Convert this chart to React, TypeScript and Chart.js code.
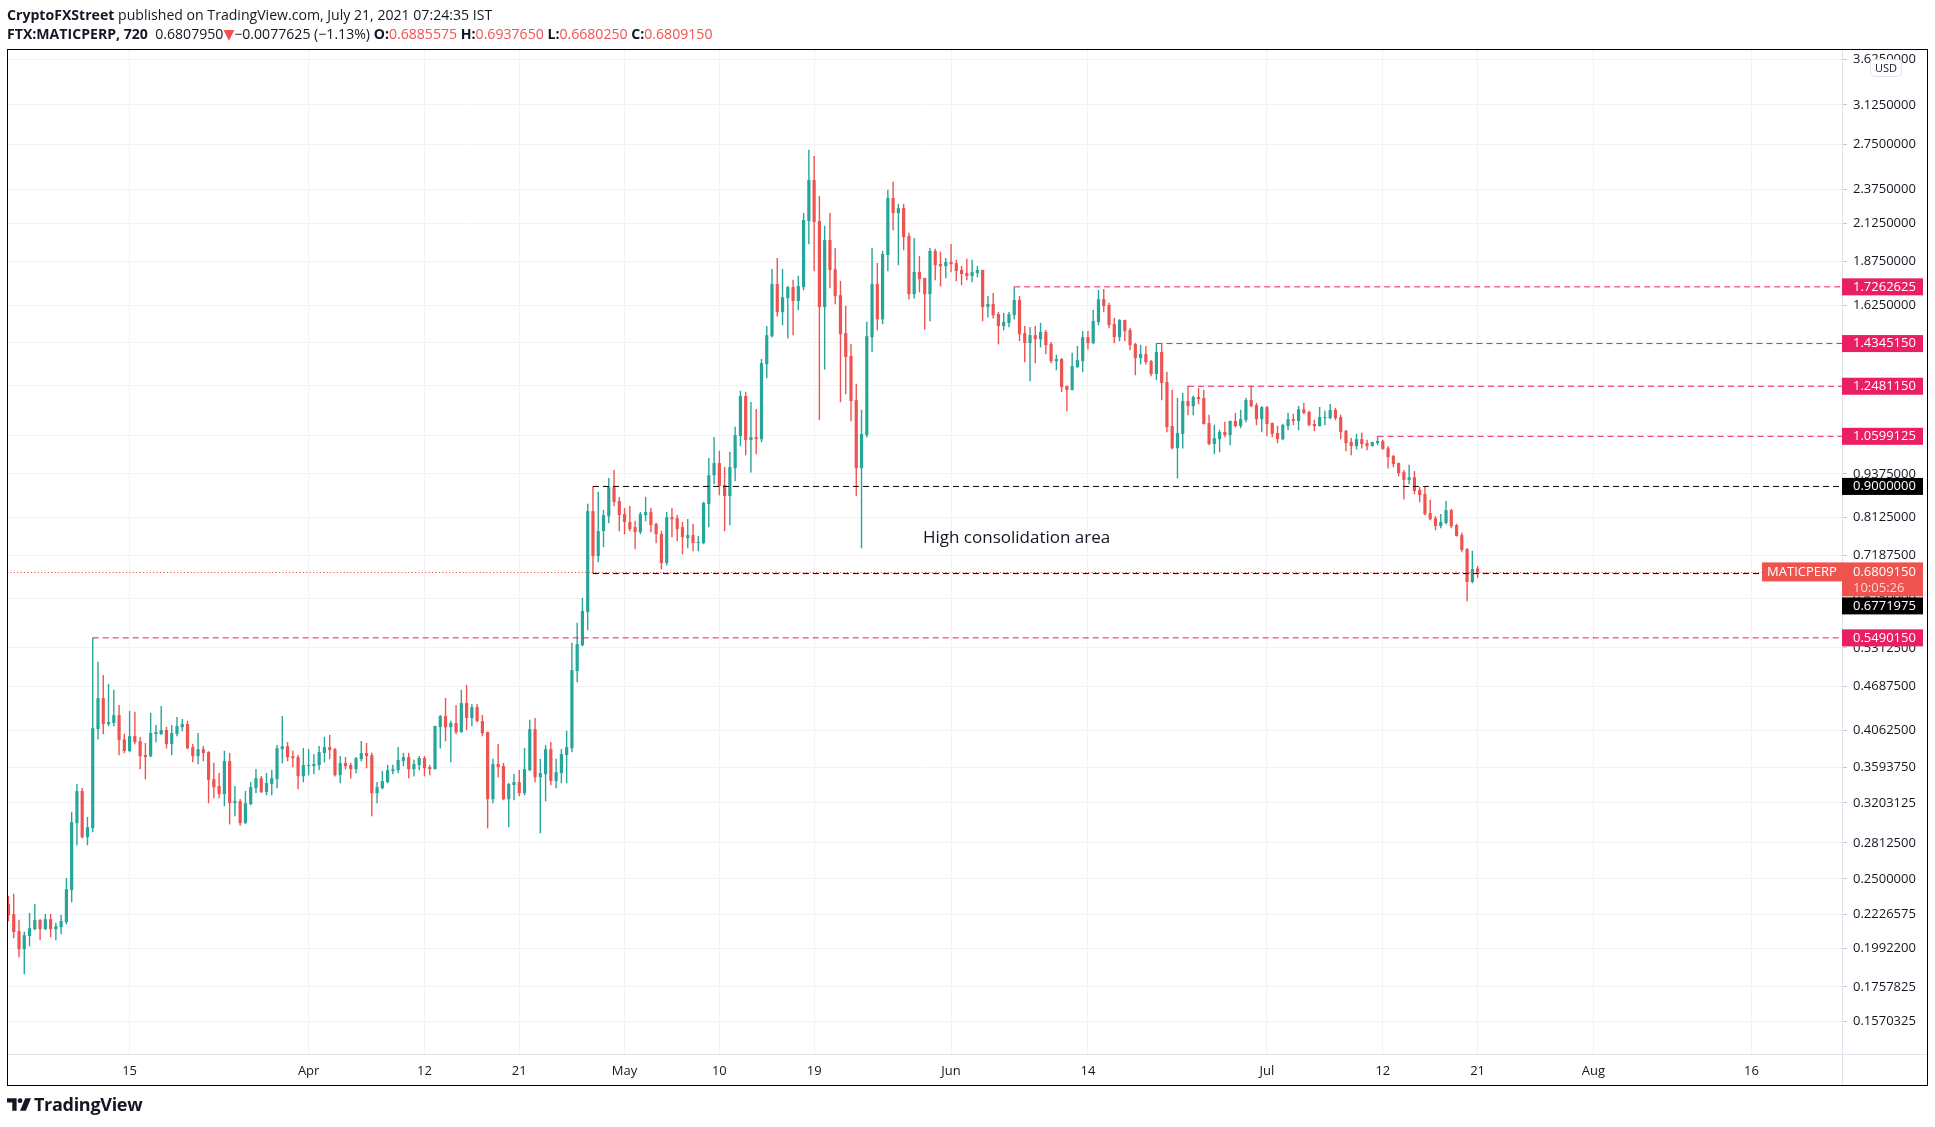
import React, { useEffect, useRef } from 'react';
import { Chart, registerables } from 'chart.js';

Chart.register(...registerables);

const UP = '#26a69a';
const DOWN = '#ef5350';
const PINK = '#e91e63';
const TEXT = '#131722';
const GRID = '#f0f2f5';
const SEP = '#e0e3eb';
const FONT = "'Open Sans', 'DejaVu Sans', sans-serif";

// 12h candles starting 2021-03-03 12:00 UTC
const firstCandleUTC = Date.UTC(2021, 2, 3, 12);
const candleHours = 12;

const openP = [
  0.2302, 0.2228, 0.2109, 0.1988, 0.2075, 0.2122, 0.2186, 0.2122, 0.2192, 0.2122,
  0.2136, 0.2172, 0.2411, 0.2999, 0.3330, 0.2865, 0.2950, 0.4076, 0.4510, 0.4144,
  0.4158, 0.4267, 0.3944, 0.3795, 0.3984, 0.3920, 0.3745, 0.3732, 0.4011, 0.4011,
  0.4064, 0.3882, 0.4011, 0.4103, 0.4144, 0.3843, 0.3732, 0.3817, 0.3782, 0.3461,
  0.3384, 0.3297, 0.3673, 0.3202, 0.3223, 0.2999, 0.3192, 0.3362, 0.3473, 0.3319,
  0.3407, 0.3461, 0.3817, 0.3856, 0.3732, 0.3720, 0.3496, 0.3613, 0.3613, 0.3625,
  0.3770, 0.3843, 0.3817, 0.3508, 0.3649, 0.3625, 0.3577, 0.3697, 0.3770, 0.3745,
  0.3308, 0.3362, 0.3429, 0.3554, 0.3566, 0.3673, 0.3720, 0.3577, 0.3625, 0.3708,
  0.3601, 0.3577, 0.4103, 0.4253, 0.4103, 0.4158, 0.4037, 0.4438, 0.4225, 0.4380,
  0.4185, 0.4037, 0.3243, 0.3637, 0.3613, 0.3243, 0.3396, 0.3429, 0.3308, 0.3566,
  0.4076, 0.3484, 0.3519, 0.3817, 0.3441, 0.3531, 0.3745, 0.3830, 0.4927, 0.5362,
  0.5973, 0.8303, 0.7170, 0.7780, 0.8167, 0.8980, 0.8582, 0.8221, 0.8012, 0.7881,
  0.7755, 0.8194, 0.8276, 0.7960, 0.7704, 0.7009, 0.8140, 0.8114, 0.7881, 0.7602,
  0.7678, 0.7482, 0.7482, 0.8497, 0.9335, 0.9714, 0.9040, 0.8721, 0.9552, 1.0608,
  1.2088, 1.0470, 1.0573, 1.0502, 1.3412, 1.4696, 1.7419, 1.5895, 1.6634, 1.7246,
  1.6486, 1.7246, 2.1400, 2.4460, 2.1400, 1.6162, 2.0110, 1.8286, 1.6801, 1.4843,
  1.3775, 1.1930, 0.9552, 1.0643, 1.4648, 1.7419, 1.5529, 1.9152, 2.3061, 2.1963,
  2.2321, 2.0373, 1.6857, 1.8121, 1.7762, 1.6857, 1.9406, 1.8594, 1.8470, 1.8717,
  1.8655, 1.8240, 1.8061, 1.7882, 1.8061, 1.8240, 1.6162, 1.6324, 1.5791, 1.5186,
  1.5339, 1.5739, 1.6540, 1.4843, 1.4368, 1.4745, 1.4549, 1.4892, 1.4320, 1.3546,
  1.3637, 1.2490, 1.2330, 1.3281, 1.3546, 1.4648, 1.4368, 1.5389, 1.6578, 1.6270,
  1.5288, 1.4648, 1.5490, 1.4990, 1.4320, 1.3682, 1.3866, 1.3546, 1.2988, 1.3958,
  1.2657, 1.0961, 1.0196, 1.0679, 1.1891, 1.1696, 1.2048, 1.2008, 1.1070, 1.0333,
  1.0502, 1.0749, 1.0643, 1.1143, 1.0961, 1.1180, 1.1930, 1.1735, 1.1210, 1.1657,
  1.1070, 1.0714, 1.0502, 1.0961, 1.1210, 1.1143, 1.1579, 1.1474, 1.1034, 1.0961,
  1.1248, 1.1248, 1.1550, 1.1286, 1.0785, 1.0402, 1.0265, 1.0502, 1.0367, 1.0265,
  1.0367, 1.0436, 1.0196, 0.9936, 0.9714, 0.9428, 0.9190, 0.9273, 0.8895, 0.8779,
  0.8249, 0.8114, 0.7907, 0.7986, 0.8330, 0.7933, 0.7678, 0.7334, 0.6588, 0.6885575,
];

const highP = [
  0.2364, 0.2380, 0.2186, 0.2102, 0.2236, 0.2302, 0.2192, 0.2228, 0.2228, 0.2165,
  0.2221, 0.2506, 0.3110, 0.3407, 0.3362, 0.3058, 0.5490, 0.5074, 0.4862, 0.4721,
  0.4631, 0.4409, 0.4011, 0.4324, 0.4310, 0.3971, 0.3894, 0.4296, 0.4130, 0.4394,
  0.4103, 0.4130, 0.4239, 0.4210, 0.4185, 0.3882, 0.4024, 0.3856, 0.3790, 0.3649,
  0.3531, 0.3795, 0.3770, 0.3384, 0.3243, 0.3330, 0.3429, 0.3577, 0.3496, 0.3531,
  0.3566, 0.3869, 0.4253, 0.3907, 0.3795, 0.3745, 0.3830, 0.3817, 0.3757, 0.3856,
  0.3971, 0.3998, 0.3830, 0.3732, 0.3720, 0.3649, 0.3720, 0.3920, 0.3894, 0.3770,
  0.3429, 0.3554, 0.3625, 0.3625, 0.3843, 0.3770, 0.3770, 0.3685, 0.3732, 0.3732,
  0.3625, 0.4117, 0.4267, 0.4510, 0.4185, 0.4409, 0.4631, 0.4706, 0.4423, 0.4423,
  0.4267, 0.4040, 0.3697, 0.3882, 0.3649, 0.3418, 0.3519, 0.3566, 0.3830, 0.4199,
  0.4225, 0.3697, 0.3869, 0.3907, 0.3697, 0.3817, 0.4051, 0.5398, 0.5762, 0.6250,
  0.8497, 0.9000, 0.8837, 0.8330, 0.9242, 0.9490, 0.8692, 0.8385, 0.8441, 0.8039,
  0.8276, 0.8692, 0.8385, 0.7986, 0.7780, 0.8276, 0.8385, 0.8194, 0.8012, 0.8088,
  0.7960, 0.7653, 0.8554, 0.9870, 1.0570, 1.0102, 0.9586, 1.0069, 1.0924, 1.2290,
  1.2250, 1.1852, 1.1579, 1.3637, 1.5186, 1.8286, 1.8961, 1.8286, 1.7300, 1.7650,
  1.7882, 2.1963, 2.6980, 2.6451, 2.3216, 2.1049, 2.1963, 1.9584, 1.7592, 1.6216,
  1.4320, 1.2573, 1.1550, 1.5389, 1.9584, 1.8655, 1.9406, 2.3680, 2.4300, 2.2620,
  2.2620, 2.0576, 2.0237, 1.9088, 1.7770, 1.9584, 1.9533, 1.9343, 1.8961, 1.9847,
  1.8840, 1.8470, 1.8902, 1.8840, 1.8470, 1.8250, 1.6745, 1.6913, 1.5895, 1.5843,
  1.5895, 1.7263, 1.6745, 1.5186, 1.5135, 1.5186, 1.5339, 1.4990, 1.4415, 1.3820,
  1.3682, 1.2500, 1.3912, 1.4226, 1.4941, 1.4941, 1.6000, 1.7080, 1.7136, 1.6378,
  1.5582, 1.5529, 1.5500, 1.5085, 1.4368, 1.4273, 1.4226, 1.3590, 1.4345, 1.4320,
  1.3074, 1.2330, 1.2008, 1.2209, 1.2481, 1.2088, 1.2410, 1.2330, 1.1361, 1.0997,
  1.0820, 1.1107, 1.1150, 1.1437, 1.1550, 1.2008, 1.2490, 1.1813, 1.1696, 1.1696,
  1.1080, 1.0961, 1.1034, 1.1437, 1.1399, 1.1696, 1.1813, 1.1512, 1.1180, 1.1657,
  1.1512, 1.1774, 1.1618, 1.1361, 1.0820, 1.0537, 1.0679, 1.0714, 1.0470, 1.0410,
  1.0599, 1.0470, 1.0265, 0.9969, 0.9720, 0.9490, 0.9650, 0.9459, 0.8980, 0.8980,
  0.8610, 0.8167, 0.8221, 0.8582, 0.8357, 0.7960, 0.7730, 0.7359, 0.7289, 0.693765,
];

const lowP = [
  0.2179, 0.2061, 0.1937, 0.1833, 0.2008, 0.2115, 0.2048, 0.2118, 0.2068, 0.2048,
  0.2088, 0.2157, 0.2318, 0.2792, 0.2855, 0.2792, 0.2913, 0.3944, 0.4011, 0.4117,
  0.4117, 0.3745, 0.3770, 0.3782, 0.3882, 0.3577, 0.3461, 0.3720, 0.3907, 0.4000,
  0.3830, 0.3745, 0.3984, 0.4051, 0.3817, 0.3661, 0.3637, 0.3673, 0.3202, 0.3254,
  0.3254, 0.3171, 0.2989, 0.3069, 0.2979, 0.2995, 0.3181, 0.3308, 0.3312, 0.3286,
  0.3286, 0.3362, 0.3649, 0.3673, 0.3601, 0.3351, 0.3429, 0.3508, 0.3519, 0.3566,
  0.3661, 0.3697, 0.3496, 0.3418, 0.3577, 0.3473, 0.3531, 0.3673, 0.3589, 0.3069,
  0.3202, 0.3351, 0.3418, 0.3519, 0.3531, 0.3613, 0.3473, 0.3496, 0.3566, 0.3496,
  0.3508, 0.3577, 0.3830, 0.3920, 0.3661, 0.4011, 0.4030, 0.4064, 0.4117, 0.4172,
  0.3984, 0.2950, 0.3202, 0.3484, 0.3234, 0.2960, 0.3234, 0.3276, 0.3286, 0.3554,
  0.3429, 0.2903, 0.3223, 0.3396, 0.3362, 0.3418, 0.3418, 0.3782, 0.4753, 0.5344,
  0.5632, 0.6772, 0.7032, 0.7383, 0.7986, 0.8441, 0.7780, 0.7704, 0.7780, 0.7334,
  0.7704, 0.8039, 0.7755, 0.7482, 0.6870, 0.6962, 0.7627, 0.7531, 0.7217, 0.7359,
  0.7289, 0.7289, 0.7457, 0.7881, 0.9070, 0.8750, 0.7780, 0.7933, 0.9160, 1.0265,
  0.9969, 0.9428, 1.0003, 1.0402, 1.2816, 1.4648, 1.5686, 1.5237, 1.4598, 1.4745,
  1.6000, 1.7080, 1.9847, 1.8180, 1.1180, 1.3190, 1.7189, 1.6324, 1.1852, 1.2169,
  1.1143, 0.8721, 0.7359, 1.0573, 1.3958, 1.4990, 1.5288, 1.8180, 2.0780, 1.8532,
  1.9470, 1.6578, 1.6634, 1.6968, 1.5034, 1.5440, 1.7650, 1.7304, 1.7762, 1.8121,
  1.7592, 1.7362, 1.7650, 1.7535, 1.7823, 1.5440, 1.5634, 1.5582, 1.4320, 1.4990,
  1.5135, 1.5529, 1.4463, 1.3501, 1.2698, 1.3457, 1.4178, 1.3866, 1.3457, 1.3160,
  1.2250, 1.1512, 1.2320, 1.3270, 1.3074, 1.4083, 1.4320, 1.5237, 1.5895, 1.5085,
  1.4368, 1.4463, 1.4463, 1.4050, 1.2945, 1.3412, 1.3412, 1.2902, 1.2740, 1.1930,
  1.0749, 1.0163, 0.9242, 1.0196, 1.1361, 1.1361, 1.1774, 1.1020, 1.0299, 1.0003,
  1.0069, 1.0573, 1.0299, 1.0924, 1.0888, 1.1107, 1.1657, 1.0997, 1.0749, 1.0608,
  1.0573, 1.0367, 1.0470, 1.0820, 1.0997, 1.0820, 1.1399, 1.0961, 1.0785, 1.0950,
  1.0997, 1.1210, 1.1180, 1.0502, 1.0102, 0.9969, 1.0163, 1.0196, 1.0135, 1.0260,
  1.0299, 1.0160, 0.9552, 0.9586, 0.9304, 0.8633, 0.9070, 0.8779, 0.8554, 0.8194,
  0.8065, 0.7806, 0.7855, 0.7960, 0.7855, 0.7650, 0.7265, 0.6192, 0.6566, 0.668025,
];

const closeP = [
  0.2221, 0.2102, 0.1988, 0.2081, 0.2129, 0.2186, 0.2122, 0.2192, 0.2122, 0.2143,
  0.2179, 0.2418, 0.3009, 0.3330, 0.2865, 0.2960, 0.4089, 0.4510, 0.4144, 0.4172,
  0.4267, 0.3933, 0.3795, 0.3984, 0.3907, 0.3732, 0.3720, 0.4024, 0.4037, 0.4064,
  0.3882, 0.4024, 0.4117, 0.4144, 0.3830, 0.3732, 0.3817, 0.3770, 0.3452, 0.3373,
  0.3297, 0.3673, 0.3202, 0.3223, 0.2999, 0.3202, 0.3373, 0.3473, 0.3319, 0.3418,
  0.3473, 0.3830, 0.3856, 0.3720, 0.3708, 0.3496, 0.3625, 0.3625, 0.3637, 0.3782,
  0.3843, 0.3807, 0.3508, 0.3649, 0.3613, 0.3577, 0.3708, 0.3770, 0.3732, 0.3308,
  0.3373, 0.3441, 0.3566, 0.3577, 0.3685, 0.3720, 0.3577, 0.3637, 0.3708, 0.3589,
  0.3577, 0.4117, 0.4253, 0.4103, 0.4158, 0.4037, 0.4438, 0.4225, 0.4380, 0.4185,
  0.4024, 0.3243, 0.3637, 0.3601, 0.3243, 0.3407, 0.3429, 0.3308, 0.3577, 0.4076,
  0.3484, 0.3531, 0.3817, 0.3441, 0.3543, 0.3757, 0.3843, 0.4943, 0.5380, 0.5992,
  0.8303, 0.7170, 0.7780, 0.8194, 0.8980, 0.8554, 0.8194, 0.8012, 0.7828, 0.7755,
  0.8221, 0.8276, 0.7933, 0.7704, 0.7009, 0.8140, 0.8088, 0.7828, 0.7627, 0.7678,
  0.7482, 0.7507, 0.8526, 0.9335, 0.9714, 0.9010, 0.8721, 0.9586, 1.0643, 1.2088,
  1.0470, 1.0573, 1.0502, 1.3457, 1.4745, 1.7419, 1.5895, 1.6689, 1.7246, 1.6486,
  1.7304, 2.1470, 2.4460, 2.1330, 1.6162, 2.0110, 1.8240, 1.6745, 1.4794, 1.3729,
  1.1891, 0.9552, 1.0679, 1.4696, 1.7419, 1.5529, 1.9215, 2.3061, 2.1963, 2.2321,
  2.0305, 1.6857, 1.8121, 1.7704, 1.6857, 1.9406, 1.8532, 1.8470, 1.8717, 1.8594,
  1.8180, 1.8002, 1.7882, 1.8121, 1.8240, 1.6162, 1.6324, 1.5739, 1.5186, 1.5389,
  1.5791, 1.6540, 1.4794, 1.4368, 1.4745, 1.4549, 1.4892, 1.4273, 1.3546, 1.3637,
  1.2449, 1.2330, 1.3324, 1.3590, 1.4648, 1.4368, 1.5439, 1.6578, 1.6216, 1.5237,
  1.4648, 1.5490, 1.4941, 1.4273, 1.3682, 1.3866, 1.3501, 1.2988, 1.3958, 1.2615,
  1.0924, 1.0196, 1.0714, 1.1891, 1.1696, 1.2048, 1.1969, 1.1034, 1.0333, 1.0537,
  1.0749, 1.0643, 1.1143, 1.0961, 1.1210, 1.1930, 1.1696, 1.1210, 1.1657, 1.1034,
  1.0679, 1.0502, 1.0997, 1.1210, 1.1143, 1.1579, 1.1437, 1.0997, 1.0961, 1.1286,
  1.1286, 1.1550, 1.1248, 1.0749, 1.0367, 1.0265, 1.0502, 1.0333, 1.0265, 1.0402,
  1.0436, 1.0163, 0.9903, 0.9682, 0.9397, 0.9190, 0.9273, 0.8866, 0.8750, 0.8221,
  0.8088, 0.7907, 0.8012, 0.8330, 0.7907, 0.7653, 0.7313, 0.6588, 0.6873, 0.680915,
];

// Time axis
const timeTickDates = [
  '2021-03-15', '2021-04-01', '2021-04-12', '2021-04-21', '2021-05-01', '2021-05-10', '2021-05-19',
  '2021-06-01', '2021-06-14', '2021-07-01', '2021-07-12', '2021-07-21', '2021-08-01', '2021-08-16',
];
const timeTickLabels = ['15', 'Apr', '12', '21', 'May', '10', '19', 'Jun', '14', 'Jul', '12', '21', 'Aug', '16'];
const viewStart = '2021-03-03T08:38:00Z';
const viewEnd = '2021-08-24T14:24:00Z';

// Price axis (log)
const priceTicks = [
  0.1570325, 0.1757825, 0.19922, 0.2226575, 0.25, 0.28125, 0.3203125, 0.359375, 0.40625, 0.46875,
  0.53125, 0.625, 0.71875, 0.8125, 0.9375, 1.0625, 1.25, 1.4375, 1.625, 1.875, 2.125, 2.375, 2.75, 3.125, 3.625,
];
const priceMin = 0.14119;
const priceMax = 3.7516;

// Horizontal levels (drawn from a candle to the right edge)
const levelPrices = [1.7262625, 1.434515, 1.248115, 1.0599125, 0.9, 0.6771975, 0.549015];
const levelStartCandle = [191, 218, 224, 260, 111, 111, 16];
const levelColors = [PINK, PINK, PINK, PINK, '#000000', '#000000', PINK];

const lastPrice = 0.680915;
const countdownText = '10:05:26';
const symbolText = 'MATICPERP';
const currencyText = 'USD';

const noteText = 'High consolidation area';
const noteDate = '2021-05-29T08:00:00Z';
const notePrice = 0.7605;

const DAY = 86400000;
const toDay = (iso: string) => Date.parse(iso) / DAY;
const candleDay = (k: number) => (firstCandleUTC + k * candleHours * 3600000) / DAY;

const W = 1935;
const H = 1127;
const FRAME = { left: 7, top: 49, right: 1927, bottom: 1085 };
const AXIS_W = 85;
const TIME_H = 31;

function roundRect(ctx: CanvasRenderingContext2D, x: number, y: number, w: number, h: number, r: number) {
  ctx.beginPath();
  ctx.moveTo(x + r, y);
  ctx.lineTo(x + w - r, y);
  ctx.quadraticCurveTo(x + w, y, x + w, y + r);
  ctx.lineTo(x + w, y + h - r);
  ctx.quadraticCurveTo(x + w, y + h, x + w - r, y + h);
  ctx.lineTo(x + r, y + h);
  ctx.quadraticCurveTo(x, y + h, x, y + h - r);
  ctx.lineTo(x, y + r);
  ctx.quadraticCurveTo(x, y, x + r, y);
  ctx.closePath();
}

const overlayPlugin = {
  id: 'tvOverlay',
  afterDraw(chart: any) {
    const { ctx, chartArea } = chart;
    const xs = chart.scales.x;
    const ys = chart.scales.y;
    ctx.save();

    // annotation text
    ctx.font = `17px ${FONT}`;
    ctx.fillStyle = TEXT;
    ctx.textAlign = 'left';
    ctx.textBaseline = 'middle';
    ctx.fillText(noteText, xs.getPixelForValue(toDay(noteDate)), ys.getPixelForValue(notePrice));

    // current price dotted line
    const py = ys.getPixelForValue(lastPrice);
    const symW = 80;
    ctx.strokeStyle = DOWN;
    ctx.lineWidth = 1;
    ctx.setLineDash([1.2, 2.2]);
    ctx.beginPath();
    ctx.moveTo(chartArea.left, Math.round(py) + 0.5);
    ctx.lineTo(chartArea.right - symW, Math.round(py) + 0.5);
    ctx.stroke();
    ctx.setLineDash([]);

    // separators
    ctx.strokeStyle = SEP;
    ctx.beginPath();
    ctx.moveTo(chartArea.right + 0.5, FRAME.top);
    ctx.lineTo(chartArea.right + 0.5, FRAME.bottom);
    ctx.moveTo(FRAME.left, chartArea.bottom + 0.5);
    ctx.lineTo(FRAME.right, chartArea.bottom + 0.5);
    ctx.stroke();

    const tagX = chartArea.right;
    const tagW = 81;
    const textX = chartArea.right + 11;
    const tagH = 17;
    ctx.font = `13px ${FONT}`;
    ctx.textBaseline = 'middle';

    // current price tag (two lines)
    const curTop = py - 9.5;
    const curBottom = py + 24.5;
    ctx.fillStyle = DOWN;
    ctx.fillRect(tagX, curTop, tagW, curBottom - curTop);
    ctx.fillRect(chartArea.right - symW, py - 9.5, symW, 19);
    ctx.fillStyle = '#ffffff';
    ctx.textAlign = 'center';
    ctx.fillText(symbolText, chartArea.right - symW / 2, py);
    ctx.textAlign = 'left';
    ctx.fillText(lastPrice.toFixed(7), textX, py);
    ctx.fillStyle = 'rgba(255,255,255,0.78)';
    ctx.fillText(countdownText, textX, py + 16);

    // level tags
    levelPrices.forEach((p, i) => {
      let cy = ys.getPixelForValue(p);
      if (cy + tagH / 2 > curTop && cy - tagH / 2 < curBottom) {
        cy = cy >= py - 2 ? curBottom + tagH / 2 + 1 : curTop - tagH / 2 - 1;
      }
      ctx.fillStyle = levelColors[i];
      ctx.fillRect(tagX, cy - tagH / 2, tagW, tagH);
      ctx.fillStyle = '#ffffff';
      ctx.fillText(p.toFixed(7), textX, cy);
    });

    // currency box
    ctx.fillStyle = '#ffffff';
    ctx.strokeStyle = SEP;
    roundRect(ctx, 1870.5, 59.5, 31, 17, 4);
    ctx.fill();
    ctx.stroke();
    ctx.fillStyle = TEXT;
    ctx.font = `11px ${FONT}`;
    ctx.textAlign = 'center';
    ctx.fillText(currencyText, 1886, 68.5);

    // outer frame
    ctx.strokeStyle = '#000000';
    ctx.lineWidth = 1;
    ctx.strokeRect(FRAME.left + 0.5, FRAME.top + 0.5, FRAME.right - FRAME.left, FRAME.bottom - FRAME.top);
    ctx.restore();
  },
};

export default function App() {
  const ref = useRef<HTMLCanvasElement | null>(null);

  useEffect(() => {
    if (!ref.current) return;
    const candleX = openP.map((_, k) => candleDay(k));
    const candleColor = (c: any) => (closeP[c.dataIndex] >= openP[c.dataIndex] ? UP : DOWN);
    const xEnd = toDay(viewEnd);

    const levelSets = levelPrices.map((p, i) => ({
      type: 'line' as const,
      data: [
        { x: candleDay(levelStartCandle[i]), y: p },
        { x: xEnd, y: p },
      ],
      borderColor: levelColors[i],
      borderWidth: 1,
      borderDash: [6, 4],
      pointRadius: 0,
      fill: false,
      tension: 0,
    }));

    const chart = new Chart(ref.current, {
      type: 'bar',
      data: {
        datasets: [
          ...levelSets,
          {
            type: 'bar',
            label: 'body',
            data: candleX.map((x, k) => ({ x, y: [Math.min(openP[k], closeP[k]), Math.max(openP[k], closeP[k])] })),
            backgroundColor: candleColor,
            maxBarThickness: 3.2,
            grouped: false,
            minBarLength: 1,
            inflateAmount: 0,
          },
          {
            type: 'bar',
            label: 'wick',
            data: candleX.map((x, k) => ({ x, y: [lowP[k], highP[k]] })),
            backgroundColor: candleColor,
            maxBarThickness: 1,
            grouped: false,
            inflateAmount: 0.2,
          },
        ] as any,
      },
      options: {
        responsive: false,
        animation: false,
        devicePixelRatio: 1,
        events: [],
        layout: {
          padding: { left: FRAME.left, top: FRAME.top, right: W - FRAME.right, bottom: H - FRAME.bottom },
        },
        plugins: { legend: { display: false }, tooltip: { enabled: false } },
        scales: {
          x: {
            type: 'linear',
            min: toDay(viewStart),
            max: xEnd,
            offset: false,
            border: { display: false },
            grid: { color: GRID, drawTicks: false, offset: false },
            afterBuildTicks: (s: any) => {
              s.ticks = timeTickDates.map((d) => ({ value: toDay(d) }));
            },
            afterFit: (s: any) => {
              s.height = TIME_H;
            },
            ticks: {
              autoSkip: false,
              maxRotation: 0,
              padding: 9,
              color: TEXT,
              font: { family: FONT, size: 13 },
              callback: (_v: any, i: number) => timeTickLabels[i],
            },
          },
          y: {
            type: 'logarithmic',
            position: 'right',
            min: priceMin,
            max: priceMax,
            beginAtZero: false,
            border: { display: false },
            grid: { color: GRID, tickLength: 5, tickColor: '#c5c8ce', drawTicks: true },
            afterBuildTicks: (s: any) => {
              s.ticks = priceTicks.map((v) => ({ value: v }));
            },
            afterFit: (s: any) => {
              s.width = AXIS_W;
            },
            ticks: {
              autoSkip: false,
              padding: 6,
              color: TEXT,
              font: { family: FONT, size: 13 },
              callback: (v: any) => Number(v).toFixed(7),
            },
          },
        },
      } as any,
      plugins: [overlayPlugin],
    });
    return () => chart.destroy();
  }, []);

  const red = { color: DOWN };
  return (
    <div style={{ position: 'absolute', left: 0, top: 0, width: W, height: H, background: '#ffffff', overflow: 'hidden' }}>
      <canvas ref={ref} width={W} height={H} style={{ position: 'absolute', left: 0, top: 0, width: W, height: H }} />
      <div
        style={{
          position: 'absolute',
          left: 7,
          top: 5,
          font: `14.1px/19px ${FONT}`,
          color: TEXT,
          whiteSpace: 'nowrap',
        }}
      >
        <div>
          <b>CryptoFXStreet</b> published on TradingView.com, July 21, 2021 07:24:35 IST
        </div>
        <div>
          <b>FTX:MATICPERP, 720</b>&nbsp; 0.6807950<span style={red}>▼</span>−0.0077625 (−1.13%) <b>O:</b>
          <span style={red}>0.6885575</span> <b>H:</b>
          <span style={red}>0.6937650</span> <b>L:</b>
          <span style={red}>0.6680250</span> <b>C:</b>
          <span style={red}>0.6809150</span>
        </div>
      </div>
      <div style={{ position: 'absolute', left: 7, top: 1094, display: 'flex', alignItems: 'center', gap: 3 }}>
        <svg width="24" height="13" viewBox="0 0 25 13">
          <path d="M0 0H10V13H5.5V4.3H0Z" fill={TEXT} />
          <circle cx="13.6" cy="2.5" r="2.5" fill={TEXT} />
          <path d="M19 0H25L19.6 13H13.6Z" fill={TEXT} />
        </svg>
        <span style={{ font: `700 18px/21px ${FONT}`, color: TEXT, letterSpacing: -0.3 }}>TradingView</span>
      </div>
    </div>
  );
}
